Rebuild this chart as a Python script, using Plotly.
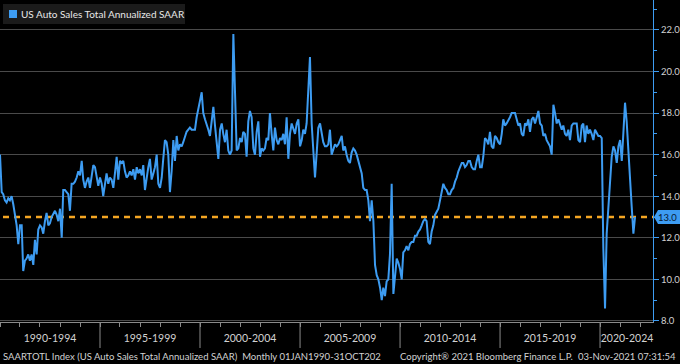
import pandas as pd
import plotly.graph_objects as go

# ---- data (US Auto Sales Total Annualized SAAR, millions, monthly Jan-1990 .. Oct-2021)
start_month = "1990-01-01"
saar_1990_1997 = [
    16.0, 14.2, 14.1, 13.8, 13.7, 13.9, 13.8, 14.0, 13.6, 13.0, 12.6, 11.7,
    12.6, 12.6, 10.4, 10.9, 11.0, 11.2, 10.9, 11.2, 10.7, 11.9, 11.2, 12.4,
    12.6, 12.5, 12.2, 12.8, 13.2, 12.6, 12.7, 13.0, 13.2, 13.3, 13.1, 12.8,
    13.4, 12.0, 14.3, 14.3, 14.2, 14.1, 13.3, 14.6, 14.6, 14.7, 14.9, 15.2,
    15.0, 15.7, 14.8, 14.4, 14.7, 14.9, 14.4, 15.0, 15.5, 15.4, 14.9, 14.5,
    14.9, 14.6, 14.0, 14.6, 15.1, 14.6, 14.9, 14.8, 14.4, 15.1, 15.9, 14.8,
    15.7, 15.6, 15.7, 15.2, 14.9, 15.0, 15.2, 15.0, 15.3, 14.8, 15.4, 15.1,
    15.3, 15.0, 15.5, 14.3, 14.9, 15.4, 15.8, 14.8, 15.1, 15.4, 16.0, 14.6,
]
saar_1998_2005 = [
    14.4, 14.9, 15.8, 16.7, 16.6, 16.0, 14.2, 15.2, 16.7, 15.7, 16.9, 16.2,
    16.5, 16.4, 16.6, 16.9, 17.1, 17.2, 17.3, 17.2, 17.2, 17.2, 17.8, 18.3,
    18.6, 19.0, 18.0, 17.7, 17.5, 17.2, 16.9, 17.5, 18.3, 17.4, 16.4, 15.8,
    17.2, 17.5, 17.0, 16.6, 17.2, 16.2, 16.0, 16.2, 21.8, 18.8, 16.2, 16.3,
    16.8, 16.6, 17.1, 17.0, 15.9, 17.6, 18.1, 17.8, 16.3, 16.0, 17.1, 17.6,
    15.9, 16.3, 16.2, 16.3, 16.8, 16.7, 18.0, 17.0, 16.2, 17.3, 16.7, 16.5,
    16.8, 16.7, 17.0, 16.5, 17.8, 15.8, 17.0, 17.5, 17.2, 17.0, 17.5, 17.7,
    16.4, 16.7, 17.2, 17.0, 17.5, 19.3, 20.7, 17.5, 15.9, 14.9, 16.1, 17.3,
]
saar_2006_2013 = [
    17.5, 16.9, 16.6, 16.4, 16.4, 16.5, 17.2, 16.0, 16.3, 16.5, 16.4, 16.5,
    16.7, 16.9, 16.2, 16.4, 16.0, 15.7, 15.6, 16.1, 16.3, 16.2, 16.0, 15.7,
    15.3, 15.1, 14.4, 14.3, 14.3, 13.8, 12.8, 13.8, 12.8, 10.7, 10.2, 10.0,
    9.6, 9.0, 9.6, 9.2, 9.9, 10.0, 11.2, 14.6, 9.3, 10.2, 11.0, 10.8,
    10.5, 10.0, 11.3, 11.4, 11.6, 11.4, 11.7, 11.8, 11.8, 12.1, 12.1, 12.3,
    12.4, 12.6, 12.8, 12.9, 12.8, 11.8, 11.7, 12.3, 12.6, 13.1, 13.3, 13.4,
    13.8, 14.3, 14.6, 14.4, 14.3, 14.1, 14.1, 14.3, 14.4, 14.7, 14.9, 15.2,
    15.4, 15.6, 15.6, 15.4, 15.5, 15.7, 15.7, 15.4, 15.3, 15.3, 15.7, 16.0,
]
saar_2014_2021 = [
    15.4, 15.4, 15.9, 16.8, 16.7, 16.5, 17.1, 16.4, 16.3, 16.9, 16.8, 16.6,
    16.5, 17.0, 17.7, 17.4, 17.5, 17.7, 17.8, 18.0, 18.0, 18.0, 17.7, 17.4,
    17.5, 17.0, 16.9, 17.5, 17.4, 17.7, 17.1, 17.7, 17.8, 17.5, 17.8, 18.1,
    17.5, 17.4, 16.9, 17.0, 16.7, 16.5, 16.4, 16.0, 18.4, 18.0, 17.5, 17.7,
    17.4, 17.2, 17.4, 17.0, 16.9, 17.2, 16.7, 17.4, 17.5, 17.5, 17.5, 16.7,
    16.6, 17.4, 17.5, 16.6, 17.4, 17.0, 17.2, 17.0, 16.7, 17.2, 17.0, 16.9,
    16.9, 16.8, 11.5, 8.6, 12.2, 13.5, 14.8, 15.9, 16.4, 16.2, 15.6, 16.4,
    16.7, 15.7, 17.0, 18.5, 17.6, 16.0, 14.8, 13.5, 12.2, 13.0,
]
saar = saar_1990_1997 + saar_1998_2005 + saar_2006_2013 + saar_2014_2021
dates = pd.date_range(start_month, periods=len(saar), freq="MS")

reference_level = 13.0
last_value_label = "13.0"
series_name = "US Auto Sales Total Annualized SAAR"
period_labels = ["1990-1994", "1995-1999", "2000-2004", "2005-2009",
                 "2010-2014", "2015-2019", "2020-2024"]
period_label_dates = ["1992-07-02", "1997-07-02", "2002-07-02", "2007-07-02",
                      "2012-07-02", "2017-07-02", "2021-05-08"]
period_breaks = ["1995-01-01", "2000-01-01", "2005-01-01", "2010-01-01",
                 "2015-01-01", "2020-01-01"]
y_ticks = [8, 10, 12, 14, 16, 18, 20, 22]
footer_left = "SAARTOTL Index (US Auto Sales Total Annualized SAAR)  Monthly 01JAN1990-31OCT202"
footer_mid = "Copyright\u00ae 2021 Bloomberg Finance L.P."
footer_right = "03-Nov-2021 07:31:54"

# ---- styling
BLUE = "#3d9cf2"
ORANGE = "#f5a623"
GRID = "#4a4a4a"
TXT = "#d2d2d2"
FONT = "Lato, Liberation Sans, sans-serif"

PW, PH = 653.0, 322.0   # plot area in pixels
def px(xp):
    return xp / PW
def py(yp):
    return 1 - yp / PH

fig = go.Figure()
fig.add_trace(go.Scatter(x=dates, y=saar, mode="lines", name=series_name,
                         line=dict(color=BLUE, width=2), showlegend=False,
                         hoverinfo="skip"))

shapes = []
shapes.append(dict(type="line", xref="paper", yref="y", x0=px(3), x1=1,
                   y0=reference_level, y1=reference_level,
                   line=dict(color=ORANGE, width=2.5, dash="6px,5px"), layer="below"))
for d in period_breaks:
    shapes.append(dict(type="line", xref="x", yref="paper", x0=d, x1=d,
                       y0=0, y1=py(348), line=dict(color="#8a8a8a", width=1)))
shapes.append(dict(type="rect", xref="paper", yref="paper", x0=px(3), x1=px(185),
                   y0=py(24), y1=py(4), fillcolor="#1b1b1b", line=dict(width=0)))
shapes.append(dict(type="rect", xref="paper", yref="paper", x0=px(9), x1=px(17),
                   y0=py(18), y1=py(10), fillcolor=BLUE, line=dict(width=0)))
shapes.append(dict(type="path", xref="paper", yref="y", xsizemode="pixel",
                   ysizemode="pixel", xanchor=1, yanchor=reference_level,
                   path="M1,0 L5,7 L27,7 L27,-7 L5,-7 Z",
                   fillcolor=BLUE, line=dict(width=0)))

annotations = [
    dict(text=series_name, xref="paper", yref="paper", x=px(19), y=py(14),
         xanchor="left", yanchor="middle", showarrow=False,
         font=dict(family=FONT, size=10, color="#e8e8e8")),
    dict(text=last_value_label, xref="paper", yref="y", x=1, y=reference_level,
         xanchor="left", yanchor="middle", xshift=3, showarrow=False,
         font=dict(family=FONT, size=9.5, color="#0a1a33")),
    dict(text=footer_left, xref="paper", yref="paper", x=px(1), y=py(356),
         xanchor="left", yanchor="middle", showarrow=False,
         font=dict(family=FONT, size=9.5, color=TXT)),
    dict(text=footer_mid, xref="paper", yref="paper", x=px(398), y=py(356),
         xanchor="left", yanchor="middle", showarrow=False,
         font=dict(family=FONT, size=9.5, color=TXT)),
    dict(text=footer_right, xref="paper", yref="paper", x=px(678), y=py(356),
         xanchor="right", yanchor="middle", showarrow=False,
         font=dict(family=FONT, size=9.5, color=TXT)),
]

fig.update_layout(
    width=680, height=364,
    margin=dict(l=0, r=27, t=0, b=42, autoexpand=False),
    paper_bgcolor="black", plot_bgcolor="black",
    font=dict(family=FONT, color=TXT, size=11),
    shapes=shapes, annotations=annotations,
    showlegend=False,
    xaxis=dict(type="date", range=["1990-01-01", "2022-08-25"], automargin=False,
               showgrid=False, zeroline=False, fixedrange=True,
               showline=True, linecolor="#8a8a8a", linewidth=1,
               tickvals=period_label_dates, ticktext=period_labels,
               ticks="", ticklabelstandoff=6,
               tickfont=dict(family=FONT, size=10.5, color=TXT),
               minor=dict(dtick="M12", tick0="1990-01-01", ticks="outside",
                          ticklen=4, tickcolor="#8a8a8a", showgrid=False)),
    yaxis=dict(side="right", range=[7.95, 23.44], automargin=False, fixedrange=True,
               tickvals=y_ticks, tickformat=".1f",
               ticks="outside", ticklen=5, tickcolor=BLUE,
               showline=True, linecolor=BLUE, linewidth=1,
               showgrid=True, gridcolor=GRID, gridwidth=1, zeroline=False,
               ticklabelstandoff=0,
               tickfont=dict(family=FONT, size=9.5, color=TXT),
               minor=dict(dtick=1, ticks="outside", ticklen=3, tickcolor=BLUE,
                          showgrid=False)),
)

fig.write_html("out.html", config={"displayModeBar": False},
               post_script="document.body.style.margin='0';document.body.style.background='black';")
